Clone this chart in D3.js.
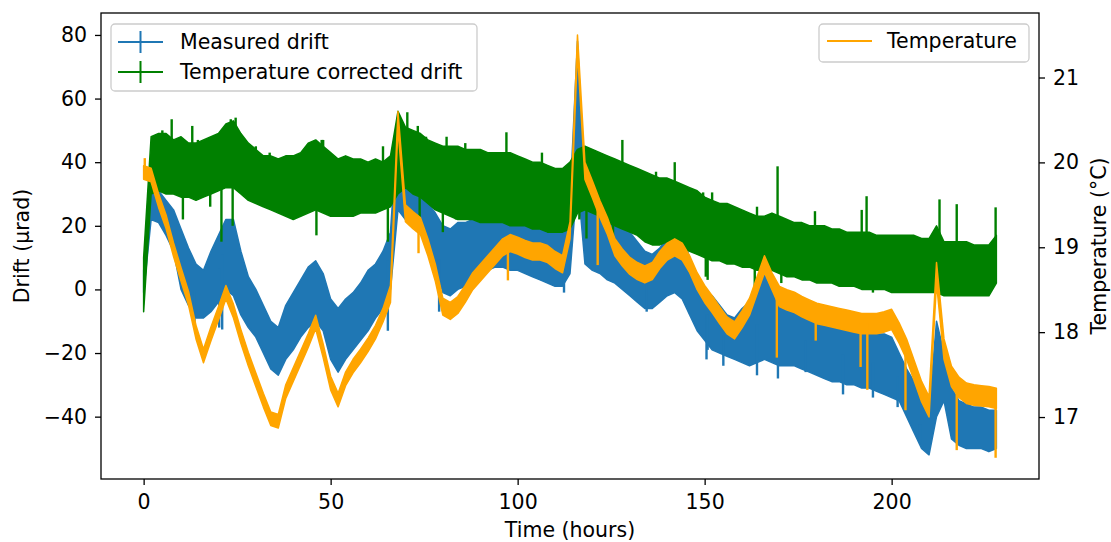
<!DOCTYPE html>
<html lang="en">
  <head>
    <meta charset="utf-8" />
    <title>Drift and temperature</title>
    <script src="https://d3js.org/d3.v7.min.js" charset="utf-8"></script>
    <style>
      body { margin: 0; background: #fff; }
      svg text { font-family: "DejaVu Sans", sans-serif; fill: #000; }
    </style>
  </head>
  <body>
    <div id="chart"></div>
    <script type="text/javascript">
      // samples every 2 hours
      const hours = [0, 2, 4, 6, 8, 10, 12, 14, 16, 18, 20, 22, 24, 26, 28, 30, 32, 34, 36, 38,
        40, 42, 44, 46, 48, 50, 52, 54, 56, 58, 60, 62, 64, 66, 68, 70, 72, 74, 76, 78,
        80, 82, 84, 86, 88, 90, 92, 94, 96, 98, 100, 102, 104, 106, 108, 110, 112, 114, 116, 118,
        120, 122, 124, 126, 128, 130, 132, 134, 136, 138, 140, 142, 144, 146, 148, 150, 152, 154, 156, 158,
        160, 162, 164, 166, 168, 170, 172, 174, 176, 178, 180, 182, 184, 186, 188, 190, 192, 194, 196, 198,
        200, 202, 204, 206, 208, 210, 212, 214, 216, 218, 220, 222, 224, 226, 228];

      // measured drift band (µrad)
      const measuredLow = [-1, 22, 21, 17, 12, 0, -5, -9, -9, -7, -4, 0, -2, -8, -12, -15, -20, -25, -27, -22,
        -19, -15, -12, -10, -13, -22, -26, -22, -19, -16, -13, -9, -6, 0, 25, 22, 21, 19, 14, 8,
        -1, -2, 0, 1, 3, 5, 6, 7, 7, 6, 6, 5, 4, 3, 2, 1, 1, 5, 35, 8,
        6, 5, 3, 2, 0, -2, -4, -6, -6, -4, -2, -1, -3, -8, -13, -16, -19, -20, -21, -22,
        -23, -24, -23, -22, -23, -24, -24, -24, -25, -26, -27, -28, -29, -29, -30, -30, -31, -31, -32, -33,
        -34, -35, -40, -45, -50, -52, -40, -35, -47, -49, -50, -50, -50, -51, -50];
      const measuredHigh = [6, 30, 31, 28, 25, 19, 13, 8, 6, 12, 17, 22, 22, 12, 4, 0, -5, -10, -12, -5,
        -1, 3, 7, 9, 5, -3, -6, -3, -1, 2, 6, 8, 12, 18, 54, 34, 32, 30, 27, 24,
        20, 19, 21, 21, 22, 23, 24, 25, 26, 26, 25, 24, 24, 23, 22, 20, 20, 28, 78, 30,
        28, 26, 24, 22, 20, 18, 15, 12, 11, 13, 16, 18, 17, 10, 3, 0, -2, -5, -8, -9,
        -6, -4, 1, 5, 0, -3, -4, -5, -5, -6, -7, -8, -9, -10, -11, -12, -13, -13, -14, -14,
        -15, -20, -25, -29, -35, -38, -10, -20, -31, -35, -36, -37, -37, -38, -38];

      // temperature corrected drift band (µrad)
      const correctedLow = [-7, 30, 31, 30, 30, 29, 29, 28, 29, 30, 31, 32, 32, 30, 28, 27, 26, 25, 24, 23,
        22, 23, 24, 25, 24, 23, 23, 23, 23, 24, 24, 24, 25, 26, 30, 32, 30, 29, 27, 25,
        24, 23, 22, 22, 22, 21, 21, 21, 21, 20, 20, 20, 19, 19, 18, 18, 18, 19, 24, 25,
        24, 23, 21, 20, 19, 18, 17, 15, 14, 14, 15, 14, 13, 12, 11, 10, 9, 9, 8, 8,
        7, 7, 6, 6, 6, 5, 4, 4, 3, 3, 2, 2, 2, 1, 1, 1, 0, 0, 0, 0,
        -1, -1, -1, -1, -1, -1, -1, -2, -2, -2, -2, -2, -2, -2, 2];
      const correctedHigh = [10, 48, 49, 49, 47, 48, 46, 46, 47, 48, 49, 52, 53, 49, 46, 44, 42, 42, 41, 42,
        42, 43, 46, 47, 45, 43, 41, 42, 41, 41, 40, 41, 40, 42, 56, 51, 50, 49, 47, 46,
        45, 45, 45, 44, 44, 44, 43, 43, 43, 43, 42, 41, 40, 40, 39, 38, 38, 40, 44, 45,
        44, 43, 42, 41, 40, 39, 38, 37, 36, 35, 35, 34, 33, 32, 31, 29, 28, 27, 27, 26,
        25, 24, 23, 23, 24, 23, 22, 21, 21, 20, 20, 20, 19, 19, 18, 18, 18, 18, 17, 17,
        17, 17, 17, 17, 16, 16, 20, 15, 15, 15, 15, 14, 14, 14, 17];

      // temperature (°C), centre of the trace
      const temperature = [19.88, 19.85, 19.55, 19.3, 18.97, 18.68, 18.4, 18.0, 17.72, 17.98, 18.22, 18.47, 18.25, 17.95, 17.68, 17.44, 17.2, 16.98, 16.95, 17.3,
        17.5, 17.7, 17.9, 18.12, 17.78, 17.4, 17.2, 17.45, 17.6, 17.72, 17.85, 18.0, 18.2, 18.45, 20.5, 19.4, 19.32, 19.25, 19.0, 18.7,
        18.3, 18.25, 18.32, 18.45, 18.6, 18.7, 18.8, 18.9, 19.0, 19.05, 19.02, 18.98, 18.95, 18.95, 18.92, 18.85, 18.8, 19.2, 21.4, 19.9,
        19.68, 19.45, 19.25, 19.0, 18.88, 18.78, 18.72, 18.68, 18.72, 18.85, 18.95, 19.0, 18.95, 18.8, 18.6, 18.45, 18.33, 18.2, 18.08, 18.02,
        18.15, 18.3, 18.55, 18.8, 18.6, 18.42, 18.38, 18.35, 18.3, 18.26, 18.22, 18.2, 18.18, 18.16, 18.14, 18.12, 18.1, 18.1, 18.1, 18.12,
        18.15, 17.99, 17.8, 17.55, 17.3, 17.12, 18.7, 17.8, 17.48, 17.35, 17.28, 17.26, 17.25, 17.24, 17.22];
      // half thickness of the temperature trace, [from hour, °C]
      const temperatureSpread = [[0, 0.08], [66, 0.1], [170, 0.12]];

      // isolated spikes, [hour, value]
      const measuredSpikes = [[13.6, -11.6], [20.2, -12], [21, -12.6], [65.3, -13], [79, -7], [112.4, -1],
        [134.5, -7], [150.5, -22], [150.8, -19], [155, -24], [164, -27], [169.6, -28], [177, -26],
        [187, -33], [195, -34], [201.6, -37], [207.6, -48], [217.4, -48]];
      const correctedSpikes = [[3, 48], [5, 50], [7.5, 53.5], [10.5, 22], [13, 51.4], [14.5, 47],
        [17.8, 26], [19.5, 46], [20.8, 15], [23.3, 53.5], [23.8, 20], [24.6, 54], [25.7, 49.4],
        [30, 45], [33.7, 43], [46.2, 17], [47.6, 47], [48, 47], [53, 41], [64, 45], [65.3, 15],
        [70.5, 55.7], [73.3, 51.4], [73.8, 20], [75.5, 48], [80, 18], [81, 48], [83.5, 22], [86, 46],
        [97, 49.4], [106.5, 43], [116.5, 22], [118.4, 16], [125.5, 16.7], [128, 47], [137, 37],
        [142, 40], [149.6, 30.5], [150.3, 4], [150.8, 3], [152, 30.5], [163.4, 0], [164, 26],
        [169.5, 38.7], [170.5, 2], [179.5, 24.6], [187, 1], [192, 25], [193.3, 29.3], [195, -1],
        [212.8, 28.3], [217.4, 26.8], [227.8, 25.8]];
      const temperatureSpikes = [[0.3, 20.05], [73.5, 18.93], [97.4, 18.61], [121.4, 18.79], [169.3, 17.7],
        [179.7, 17.9], [191.7, 17.59], [193.5, 17.32], [203.7, 17.08], [217.4, 16.61], [227.8, 16.52]];

      const xTicks = [0, 50, 100, 150, 200];
      const yTicks = [-40, -20, 0, 20, 40, 60, 80];
      const tTicks = [17, 18, 19, 20, 21];

      const cW = 1111, cH = 542;
      const cLeft = 101, cRight = 1039, cTop = 13, cBottom = 479;
      const cFont = 20.5;
      const cBlue = "#1f77b4", cGreen = "#008000", cOrange = "#ffa500";

      const svg = d3.select("#chart").append("svg").attr("width", cW).attr("height", cH);

      const xScale = d3.scaleLinear().domain([-11.4, 239.4]).range([cLeft, cRight]);
      const yScale = d3.scaleLinear().domain([-59.6, 86.9]).range([cBottom, cTop]);
      const tScale = d3.scaleLinear().domain([16.27, 21.76]).range([cBottom, cTop]);

      svg.append("clipPath").attr("id", "plot-clip")
        .append("rect")
        .attr("x", cLeft).attr("y", cTop)
        .attr("width", cRight - cLeft).attr("height", cBottom - cTop);

      const plot = svg.append("g").attr("clip-path", "url(#plot-clip)");

      function spreadAt(h) {
        let s = temperatureSpread[0][1];
        temperatureSpread.forEach((d) => { if (h >= d[0]) s = d[1]; });
        return s;
      }

      function drawBand(lows, highs, scale, color, spikes) {
        const rows = hours.map((h, i) => ({ h: h, lo: lows[i], hi: highs[i] }));
        plot.append("path")
          .datum(rows)
          .attr("fill", color)
          .attr("stroke", color)
          .attr("stroke-width", 1.5)
          .attr("stroke-linejoin", "round")
          .attr("d", d3.area()
            .x((d) => xScale(d.h))
            .y0((d) => scale(d.lo))
            .y1((d) => scale(d.hi)));

        plot.selectAll(null)
          .data(spikes)
          .enter()
          .append("line")
          .attr("x1", (d) => xScale(d[0]))
          .attr("x2", (d) => xScale(d[0]))
          .attr("y1", (d) => {
            const i = Math.min(rows.length - 1, Math.round(d[0] / 2));
            return scale((rows[i].lo + rows[i].hi) / 2);
          })
          .attr("y2", (d) => scale(d[1]))
          .attr("stroke", color)
          .attr("stroke-width", 2.4);
      }

      drawBand(measuredLow, measuredHigh, yScale, cBlue, measuredSpikes);
      drawBand(correctedLow, correctedHigh, yScale, cGreen, correctedSpikes);
      drawBand(
        temperature.map((t, i) => t - spreadAt(hours[i])),
        temperature.map((t, i) => t + spreadAt(hours[i])),
        tScale, cOrange, temperatureSpikes);

      // axes
      function styleAxis(g) {
        g.select(".domain").remove();
        g.selectAll(".tick line").attr("stroke", "#000").attr("stroke-width", 1.3);
        g.selectAll(".tick text")
          .attr("font-family", "DejaVu Sans, sans-serif")
          .attr("font-size", cFont)
          .attr("fill", "#000");
      }

      svg.append("g")
        .attr("transform", `translate(0,${cBottom})`)
        .call(d3.axisBottom(xScale).tickValues(xTicks).tickFormat(d3.format("d")).tickSize(6).tickPadding(9))
        .call(styleAxis);

      svg.append("g")
        .attr("transform", `translate(${cLeft},0)`)
        .call(d3.axisLeft(yScale).tickValues(yTicks).tickFormat(d3.format("d")).tickSize(6).tickPadding(8))
        .call(styleAxis);

      svg.append("g")
        .attr("transform", `translate(${cRight},0)`)
        .call(d3.axisRight(tScale).tickValues(tTicks).tickFormat(d3.format("d")).tickSize(6).tickPadding(8))
        .call(styleAxis);

      svg.append("rect")
        .attr("x", cLeft).attr("y", cTop)
        .attr("width", cRight - cLeft).attr("height", cBottom - cTop)
        .attr("fill", "none")
        .attr("stroke", "#000")
        .attr("stroke-width", 1.3);

      // axis titles
      svg.append("text")
        .attr("x", (cLeft + cRight) / 2)
        .attr("y", 537)
        .attr("text-anchor", "middle")
        .attr("font-size", cFont)
        .text("Time (hours)");

      svg.append("text")
        .attr("transform", `translate(29,${(cTop + cBottom) / 2}) rotate(-90)`)
        .attr("text-anchor", "middle")
        .attr("font-size", cFont)
        .text("Drift (μrad)");

      svg.append("text")
        .attr("transform", `translate(1106,${(cTop + cBottom) / 2}) rotate(-90)`)
        .attr("text-anchor", "middle")
        .attr("font-size", cFont)
        .text("Temperature (°C)");

      // legends
      const leftLegend = svg.append("g");
      leftLegend.append("rect")
        .attr("x", 111).attr("y", 24).attr("width", 366).attr("height", 67).attr("rx", 4)
        .attr("fill", "#fff").attr("fill-opacity", 0.8)
        .attr("stroke", "#cccccc").attr("stroke-width", 1.3);

      [["Measured drift", cBlue, 42], ["Temperature corrected drift", cGreen, 72]].forEach((d) => {
        leftLegend.append("line")
          .attr("x1", 118).attr("x2", 163).attr("y1", d[2]).attr("y2", d[2])
          .attr("stroke", d[1]).attr("stroke-width", 2);
        leftLegend.append("line")
          .attr("x1", 140.5).attr("x2", 140.5).attr("y1", d[2] - 11).attr("y2", d[2] + 11)
          .attr("stroke", d[1]).attr("stroke-width", 2);
        leftLegend.append("text")
          .attr("x", 180).attr("y", d[2] + 7)
          .attr("font-size", cFont)
          .text(d[0]);
      });

      const rightLegend = svg.append("g");
      rightLegend.append("rect")
        .attr("x", 819).attr("y", 24).attr("width", 210).attr("height", 38).attr("rx", 4)
        .attr("fill", "#fff").attr("fill-opacity", 0.8)
        .attr("stroke", "#cccccc").attr("stroke-width", 1.3);
      rightLegend.append("line")
        .attr("x1", 827).attr("x2", 872).attr("y1", 41).attr("y2", 41)
        .attr("stroke", cOrange).attr("stroke-width", 2);
      rightLegend.append("text")
        .attr("x", 887).attr("y", 48)
        .attr("font-size", cFont)
        .text("Temperature");
    </script>
  </body>
</html>
